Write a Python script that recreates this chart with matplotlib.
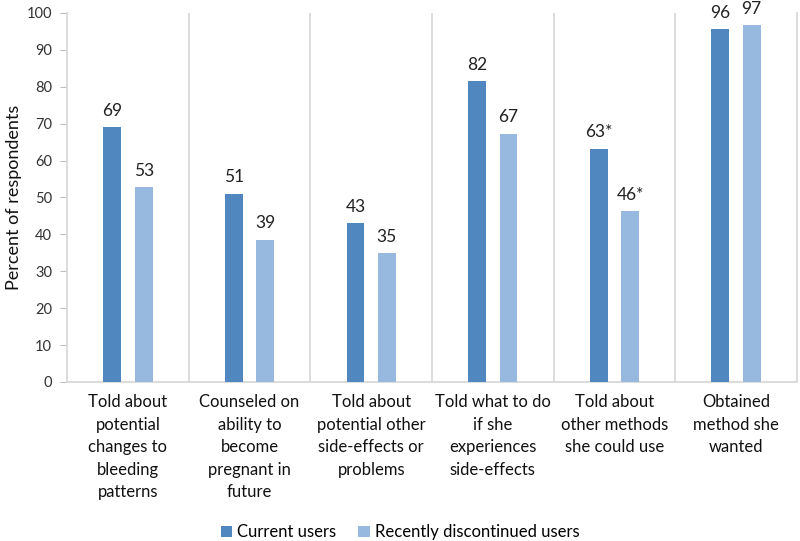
import matplotlib
matplotlib.use("Agg")
import matplotlib.pyplot as plt
import numpy as np

categories = [
    "Told about\npotential\nchanges to\nbleeding\npatterns",
    "Counseled on\nability to\nbecome\npregnant in\nfuture",
    "Told about\npotential other\nside-effects or\nproblems",
    "Told what to do\nif she\nexperiences\nside-effects",
    "Told about\nother methods\nshe could use",
    "Obtained\nmethod she\nwanted",
]
current = [69.0, 51.0, 43.1, 81.6, 63.2, 95.7]
discontinued = [52.8, 38.6, 34.9, 67.3, 46.2, 96.7]
current_labels = ["69", "51", "43", "82", "63*", "96"]
discontinued_labels = ["53", "39", "35", "67", "46*", "97"]
series_names = ["Current users", "Recently discontinued users"]
yticks = [0, 10, 20, 30, 40, 50, 60, 70, 80, 90, 100]

plt.rcParams['font.family'] = ['Lato', 'DejaVu Sans']

fig = plt.figure(figsize=(8, 5.41), dpi=100)
ax = fig.add_axes([0.084, 0.294, 0.912, 0.682])

x = np.arange(len(categories))
w = 0.145
off = 0.129
c1 = "#4F87BE"
c2 = "#98B9DF"
b1 = ax.bar(x - off, current, w, color=c1, label=series_names[0], zorder=3)
b2 = ax.bar(x + off, discontinued, w, color=c2, label=series_names[1], zorder=3)

for rect, lab in zip(b1, current_labels):
    ax.annotate(lab, (rect.get_x() + rect.get_width() / 2, rect.get_height()),
                xytext=(0, 6), textcoords="offset points", ha="center", va="bottom",
                fontsize=12.5, color="#222222", annotation_clip=False)
for rect, lab in zip(b2, discontinued_labels):
    ax.annotate(lab, (rect.get_x() + rect.get_width() / 2, rect.get_height()),
                xytext=(0, 6), textcoords="offset points", ha="center", va="bottom",
                fontsize=12.5, color="#222222", annotation_clip=False)

ax.set_xlim(-0.5, len(categories) - 0.5)
ax.set_ylim(0, 100)
ax.set_yticks(yticks)
ax.set_yticklabels([str(t) for t in yticks], fontsize=10.5, color="#333333")
ax.set_xticks(x)
ax.set_xticklabels(categories, fontsize=12, color="#111111", linespacing=1.5)
ax.tick_params(axis="x", length=0, pad=9)
ax.tick_params(axis="y", length=5, color="#BFBFBF", pad=6)

for b in np.arange(0.5, len(categories) - 0.5, 1.0):
    ax.axvline(b, color="#D9D9D9", lw=1.3, zorder=1)

ax.spines["top"].set_visible(False)
for s in ["right", "left", "bottom"]:
    ax.spines[s].set_color("#D9D9D9")
    ax.spines[s].set_linewidth(1.3)

ax.set_ylabel("Percent of respondents", fontsize=13, color="#111111", labelpad=3)

fig.legend(handles=[b1, b2], labels=series_names, loc="center", bbox_to_anchor=(0.50, 0.016),
           ncol=2, frameon=False, fontsize=12, handlelength=0.7, handleheight=0.7,
           handletextpad=0.3, columnspacing=1.3)

fig.savefig("out.png", dpi=100)
